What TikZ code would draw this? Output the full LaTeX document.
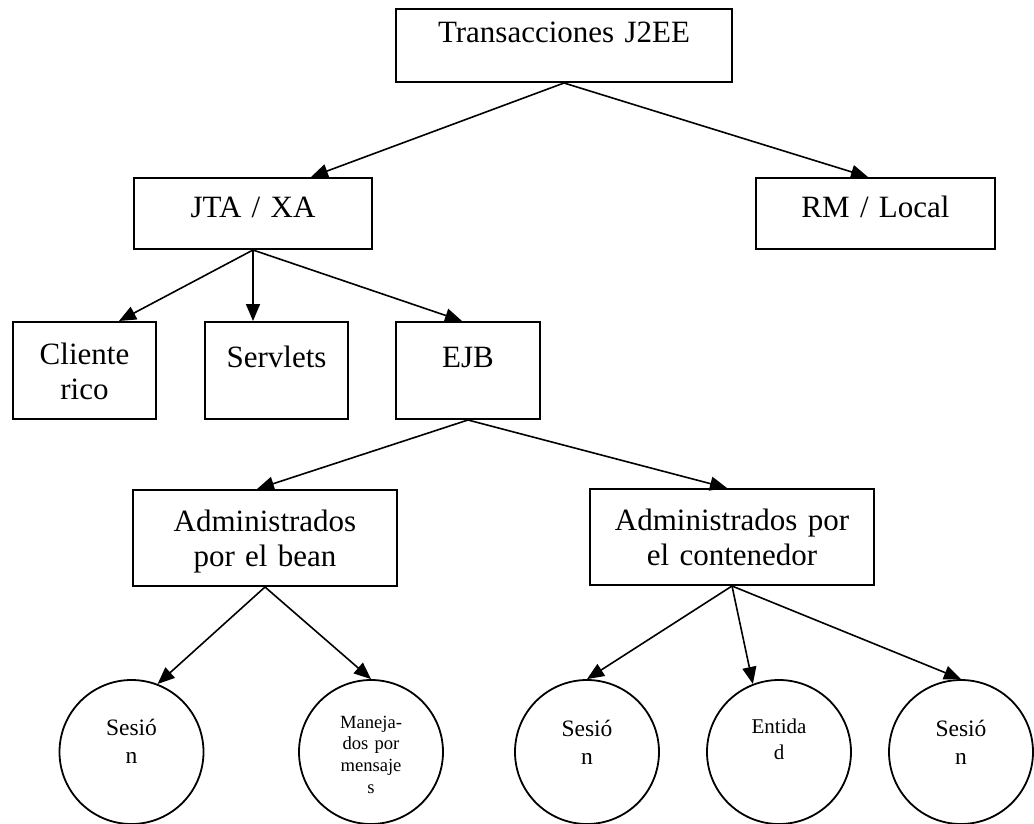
\documentclass[tikz,border=0pt]{standalone}
\usepackage{fontspec}
\setmainfont{Liberation Serif}
\usetikzlibrary{arrows.meta}

\tikzset{
  box/.style={draw, line width=2pt, inner sep=0pt, align=center,
    anchor=north west, font=\fontsize{31}{35}\selectfont},
  bubble/.style={draw, circle, line width=1.8pt, inner sep=0pt,
    minimum size=144pt, text width=90pt, align=center, text height=10pt},
  arr/.style={line width=1.6pt, -{Triangle[length=17pt,width=14pt]}},
}

\begin{document}
\begin{tikzpicture}[x=1pt,y=-1pt]
  \useasboundingbox (0,0) rectangle (1034,824);

  % level 1
  \node[box, text width=336pt, text height=34pt, text depth=39pt] (tx) at (395,8) {Transacciones J2EE};

  % level 2
  \node[box, text width=238pt, text height=40pt, text depth=31pt] (jta) at (133,177) {JTA / XA};
  \node[box, text width=239pt, text height=40pt, text depth=31pt] (rm) at (755,177) {RM / Local};

  % level 3
  \node[box, text width=143pt, text height=42pt, text depth=55pt] (cli) at (12,321) {Cliente\\rico};
  \node[box, text width=143pt, text height=45pt, text depth=52pt] (srv) at (204,321) {Servlets};
  \node[box, text width=144pt, text height=45pt, text depth=52pt] (ejb) at (395,321) {EJB};

  % level 4
  \node[box, text width=264pt, text height=41pt, text depth=55pt] (bean) at (132,489) {Administrados\\por el bean};
  \node[box, text width=284pt, text height=41pt, text depth=55pt] (cont) at (589,488) {Administrados por\\el contenedor};

  % level 5
  \node[bubble, text depth=44pt, font=\fontsize{23.5}{28}\selectfont] (c1) at (131.5,752) {Sesió\\n};
  \node[bubble, text depth=58pt, font=\fontsize{18.6}{21.7}\selectfont] (c2) at (371,752) {Maneja-\\dos por\\mensaje\\s};
  \node[bubble, text depth=41pt, font=\fontsize{23.5}{28}\selectfont] (c3) at (587,752) {Sesió\\n};
  \node[bubble, text depth=48pt, font=\fontsize{21}{26}\selectfont] (c4) at (779,752) {Entida\\d};
  \node[bubble, text depth=42pt, font=\fontsize{23.5}{28}\selectfont] (c5) at (961,752) {Sesió\\n};

  % connectors
  \draw[arr] (tx.south) -- ([xshift=58pt]jta.north);
  \draw[arr] (tx.south) -- ([xshift=-7.5pt]rm.north);

  \draw[arr] (jta.south) -- ([xshift=34.5pt]cli.north);
  \draw[arr] (jta.south) -- ([xshift=-23.5pt]srv.north);
  \draw[arr] (jta.south) -- ([xshift=-6pt]ejb.north);

  \draw[arr] (ejb.south) -- ([xshift=-8pt]bean.north);
  \draw[arr] (ejb.south) -- ([xshift=-5pt]cont.north);

  \draw[arr] (bean.south) -- (c1.69);
  \draw[arr] (bean.south) -- (c2.north);

  \draw[arr] (cont.south) -- (c3.north);
  \draw[arr] (cont.south) -- (c4.111);
  \draw[arr] (cont.south) -- (c5.north);
\end{tikzpicture}
\end{document}
